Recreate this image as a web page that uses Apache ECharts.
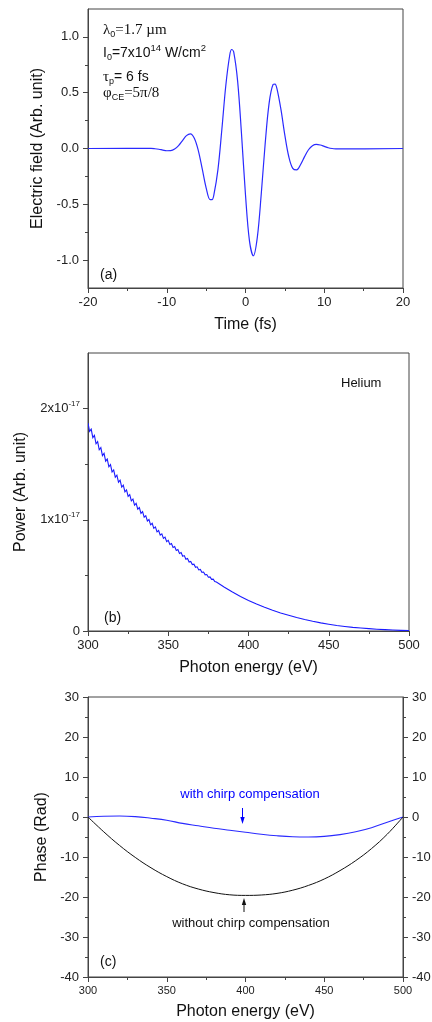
<!DOCTYPE html>
<html><head><meta charset="utf-8">
<script src="https://cdn.jsdelivr.net/npm/echarts@6/dist/echarts.min.js"></script>
<style>html,body{margin:0;padding:0;background:#fff}#c{width:432px;height:1022px}</style>
</head><body><div id="c"></div>
<script>
// ---------- Panel (a): electric field ----------
const timeFs = [-20,-12,-11.5,-11,-10.5,-10,-9.5,-9,-8.5,-8,-7.5,-7,-6.5,-6,-5.5,-5,-4.5,-4.25,-4,-3.5,-3,-2.5,-2,-1.75,-1.5,-1,-0.5,0,0.5,1,1.5,2,2.5,3,3.5,3.75,4,4.5,5,5.5,6,6.5,7,7.5,8,8.5,9,9.5,10,10.5,11,11.5,12,20];
const fieldA = [0,0.001,-0.002,-0.007,-0.014,-0.020,-0.019,-0.005,0.026,0.071,0.115,0.131,0.092,-0.016,-0.181,-0.352,-0.458,-0.458,-0.409,-0.189,0.173,0.565,0.838,0.887,0.865,0.604,0.123,-0.416,-0.825,-0.961,-0.796,-0.408,0.045,0.406,0.573,0.577,0.534,0.350,0.118,-0.074,-0.178,-0.192,-0.143,-0.073,-0.011,0.025,0.037,0.031,0.019,0.007,0,-0.003,-0.004,0];
const aXTicks = [-20,-10,0,10,20];
const aYTicks = [-1,-0.5,0,0.5,1];
const aYMinor = [-0.75,-0.25,0.25,0.75];

// ---------- Panel (b): power spectrum (units of 1e-17) ----------
const powerEnergy = [300,301,302,303,304,305,306,307,308,309,310,311,312,313,314,315,316,317,318,319,320,321,322,323,324,325,326,327,328,329,330,331,332,333,334,335,336,337,338,339,340,341,342,343,344,345,346,347,348,349,350,351,352,353,354,355,356,357,358,359,360,361,362,363,364,365,366,367,368,369,370,371,372,373,374,375,376,377,378,379,380,385,390,395,400,405,410,415,420,425,430,435,440,445,450,455,460,465,470,475,480,485,490,495,500];
const powerE17 = [1.870,1.796,1.816,1.739,1.759,1.684,1.703,1.630,1.649,1.577,1.597,1.527,1.546,1.477,1.496,1.430,1.448,1.383,1.401,1.338,1.356,1.294,1.312,1.252,1.269,1.211,1.227,1.171,1.187,1.132,1.148,1.095,1.110,1.058,1.073,1.023,1.037,0.989,1.002,0.955,0.969,0.923,0.936,0.892,0.904,0.862,0.873,0.833,0.844,0.804,0.815,0.778,0.787,0.751,0.759,0.725,0.732,0.698,0.705,0.672,0.678,0.646,0.652,0.621,0.626,0.597,0.601,0.573,0.577,0.549,0.553,0.527,0.530,0.505,0.508,0.484,0.486,0.464,0.466,0.444,0.44,0.393,0.35,0.31,0.275,0.243,0.213,0.186,0.162,0.141,0.121,0.103,0.087,0.073,0.061,0.05,0.041,0.033,0.027,0.021,0.016,0.012,0.009,0.006,0.004];
const bYTicks = [0,1,2];
const bYMinor = [0.5,1.5];

// ---------- Panel (c): phase ----------
const phaseEnergy = [300,310,320,330,340,350,360,370,380,390,400,410,420,430,440,450,460,470,480,490,500];
const phaseWith = [0,0.2,0.25,0.1,-0.3,-0.8,-1.6,-2.2,-2.8,-3.3,-3.8,-4.3,-4.7,-4.95,-5.0,-4.85,-4.4,-3.7,-2.7,-1.3,0];
const phaseWithout = [0,-3.7,-7.1,-10.1,-12.7,-14.9,-16.7,-18.0,-18.9,-19.45,-19.6,-19.5,-19.1,-18.3,-17.1,-15.5,-13.4,-10.9,-7.9,-4.3,0];

const zip = (xs, ys) => xs.map((x, i) => [x, ys[i]]);
const sans = '"Liberation Sans", Arial, sans-serif';
const serif = '"Liberation Serif", "Times New Roman", serif';
const axisColor = '#444';
const labelColor = '#222';

function xAxis(gi, min, max, interval, fs, name, gap) {
  return {
    gridIndex: gi, type: 'value', min, max, interval,
    axisLine: { onZero: false, lineStyle: { color: axisColor, width: 1 } },
    axisTick: { length: 5, lineStyle: { color: axisColor } },
    minorTick: { show: true, splitNumber: 2, length: 3, lineStyle: { color: axisColor } },
    splitLine: { show: false }, minorSplitLine: { show: false },
    axisLabel: { color: labelColor, fontSize: fs, fontFamily: sans, margin: 8 },
    name, nameLocation: 'middle', nameGap: gap,
    nameTextStyle: { color: '#111', fontSize: 16, fontFamily: sans }
  };
}
function yMinor(gi, min, max, vals) {
  return {
    gridIndex: gi, type: 'value', min, max, position: 'left',
    axisLine: { show: false, onZero: false },
    axisTick: { show: true, customValues: vals, length: 3, lineStyle: { color: axisColor } },
    axisLabel: { show: false }, splitLine: { show: false }
  };
}

const sub = { fontFamily: sans, fontSize: 9, lineHeight: 9, verticalAlign: 'bottom', fill: '#111' };
const sup = { fontFamily: sans, fontSize: 9.5, lineHeight: 9, verticalAlign: 'top', fill: '#111' };
const g = { fontFamily: serif, fontSize: 15, lineHeight: 19, fill: '#111' };
const t = { fontFamily: sans, fontSize: 14, lineHeight: 19, fill: '#111' };

const powerData = zip(powerEnergy, powerE17);

const chart = echarts.init(document.getElementById('c'), null, { renderer: 'canvas' });
const option = {
  backgroundColor: '#fff',
  animation: false,
  grid: [
    { left: 88, top: 9, width: 315, height: 279, show: true, borderColor: axisColor, borderWidth: 1, outerBoundsMode: 'none', containLabel: false },
    { left: 88, top: 353, width: 321, height: 278, show: true, borderColor: axisColor, borderWidth: 1, outerBoundsMode: 'none', containLabel: false },
    { left: 88, top: 697, width: 315, height: 280, show: true, borderColor: axisColor, borderWidth: 1, outerBoundsMode: 'none', containLabel: false }
  ],
  xAxis: [
    xAxis(0, -20, 20, 10, 13, 'Time (fs)', 29),
    xAxis(1, 300, 500, 50, 13, 'Photon energy (eV)', 29),
    xAxis(2, 300, 500, 50, 11, 'Photon energy (eV)', 27)
  ],
  yAxis: [
    { gridIndex: 0, type: 'value', min: -1.25, max: 1.25, position: 'left',
      axisLine: { onZero: false, lineStyle: { color: axisColor } },
      axisTick: { customValues: aYTicks, length: 5, lineStyle: { color: axisColor } },
      axisLabel: { customValues: aYTicks, formatter: v => v.toFixed(1), color: labelColor, fontSize: 13, fontFamily: sans, margin: 9 },
      splitLine: { show: false },
      name: 'Electric field (Arb. unit)', nameLocation: 'middle', nameGap: 41,
      nameTextStyle: { color: '#111', fontSize: 16, fontFamily: sans } },
    yMinor(0, -1.25, 1.25, aYMinor),
    { gridIndex: 1, type: 'value', min: 0, max: 2.5, position: 'left',
      axisLine: { onZero: false, lineStyle: { color: axisColor } },
      axisTick: { customValues: bYTicks, length: 5, lineStyle: { color: axisColor } },
      axisLabel: { customValues: bYTicks, color: labelColor, fontFamily: sans, margin: 8,
        formatter: v => v === 0 ? '{m|0}' : '{m|' + v + 'x10}{s|-17}',
        rich: { m: { fontSize: 13, fontFamily: sans, color: labelColor, lineHeight: 18 },
                s: { fontSize: 8, fontFamily: sans, color: labelColor, lineHeight: 10, verticalAlign: 'top' } } },
      splitLine: { show: false },
      name: 'Power (Arb. unit)', nameLocation: 'middle', nameGap: 59,
      nameTextStyle: { color: '#111', fontSize: 16, fontFamily: sans } },
    yMinor(1, 0, 2.5, bYMinor),
    { gridIndex: 2, type: 'value', min: -40, max: 30, interval: 10, position: 'left',
      axisLine: { onZero: false, lineStyle: { color: axisColor } },
      axisTick: { length: 5, lineStyle: { color: axisColor } },
      minorTick: { show: true, splitNumber: 2, length: 3, lineStyle: { color: axisColor } },
      axisLabel: { color: labelColor, fontSize: 13, fontFamily: sans, margin: 9 },
      splitLine: { show: false },
      name: 'Phase (Rad)', nameLocation: 'middle', nameGap: 37,
      nameTextStyle: { color: '#111', fontSize: 16, fontFamily: sans } },
    { gridIndex: 2, type: 'value', min: -40, max: 30, interval: 10, position: 'right',
      axisLine: { onZero: false, lineStyle: { color: axisColor } },
      axisTick: { length: 5, lineStyle: { color: axisColor } },
      minorTick: { show: true, splitNumber: 2, length: 3, lineStyle: { color: axisColor } },
      axisLabel: { color: labelColor, fontSize: 13, fontFamily: sans, margin: 9 },
      splitLine: { show: false } }
  ],
  series: [
    { type: 'line', xAxisIndex: 0, yAxisIndex: 0, data: zip(timeFs, fieldA), smooth: 0.35,
      showSymbol: false, lineStyle: { color: '#2a2aff', width: 1.2 } },
    // custom polyline so that the fine spectral ripple is kept (no segment merging)
    { type: 'custom', xAxisIndex: 1, yAxisIndex: 2, data: powerData, encode: { x: 0, y: 1 }, clip: true,
      renderItem: function (params, api) {
        if (params.dataIndex !== 0) return null;
        const pts = powerData.map(d => api.coord(d));
        return { type: 'polyline', shape: { points: pts }, style: { stroke: '#1a1aff', lineWidth: 1.1, fill: null } };
      } },
    { type: 'line', xAxisIndex: 2, yAxisIndex: 4, data: zip(phaseEnergy, phaseWith), smooth: 0.4,
      showSymbol: false, lineStyle: { color: '#2a2aff', width: 1.1 } },
    { type: 'line', xAxisIndex: 2, yAxisIndex: 4, data: zip(phaseEnergy, phaseWithout), smooth: 0.4,
      showSymbol: false, lineStyle: { color: '#111', width: 1 } }
  ],
  graphic: [
    { type: 'text', style: { x: 103, y: 30, verticalAlign: 'middle', text: '{g|λ}{sub|0}{g|=1.7 µm}', rich: { g, sub } } },
    { type: 'text', style: { x: 103, y: 53, verticalAlign: 'middle', text: '{t|I}{sub|0}{t|=7x10}{sup|14}{t| W/cm}{sup|2}', rich: { t, sub, sup } } },
    { type: 'text', style: { x: 103, y: 77, verticalAlign: 'middle', text: '{g|τ}{sub|p}{t|= 6 fs}', rich: { g, t, sub } } },
    { type: 'text', style: { x: 103, y: 93, verticalAlign: 'middle', text: '{g|φ}{sub|CE}{g|=5π/8}', rich: { g, sub } } },
    { type: 'text', style: { x: 100, y: 275, verticalAlign: 'middle', text: '(a)', font: '14px ' + sans, fill: '#111' } },
    { type: 'text', style: { x: 104, y: 618, verticalAlign: 'middle', text: '(b)', font: '14px ' + sans, fill: '#111' } },
    { type: 'text', style: { x: 100, y: 962, verticalAlign: 'middle', text: '(c)', font: '14px ' + sans, fill: '#111' } },
    { type: 'text', style: { x: 341, y: 383, verticalAlign: 'middle', text: 'Helium', font: '13px ' + sans, fill: '#111' } },
    { type: 'text', style: { x: 250, y: 794, align: 'center', verticalAlign: 'middle', text: 'with chirp compensation', font: '13px ' + sans, fill: '#0000ff' } },
    { type: 'text', style: { x: 251, y: 923, align: 'center', verticalAlign: 'middle', text: 'without chirp compensation', font: '13px ' + sans, fill: '#111' } },
    { type: 'line', shape: { x1: 242.5, y1: 808, x2: 242.5, y2: 818 }, style: { stroke: '#0000ff', lineWidth: 1 } },
    { type: 'polygon', shape: { points: [[240.3, 817], [244.7, 817], [242.5, 824]] }, style: { fill: '#0000ff' } },
    { type: 'line', shape: { x1: 244, y1: 912, x2: 244, y2: 904 }, style: { stroke: '#111', lineWidth: 1 } },
    { type: 'polygon', shape: { points: [[241.8, 905], [246.2, 905], [244, 898]] }, style: { fill: '#111' } }
  ]
};
chart.setOption(option);
</script></body></html>
